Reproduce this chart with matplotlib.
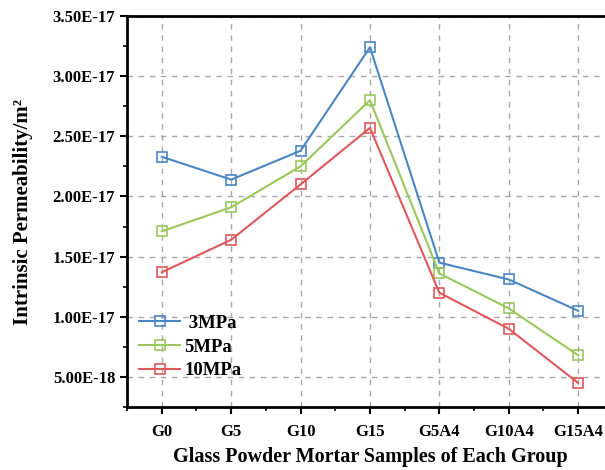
import matplotlib.pyplot as plt
from matplotlib.ticker import FuncFormatter, MultipleLocator, AutoMinorLocator

plt.rcParams['font.family'] = ['Liberation Serif', 'DejaVu Serif']
plt.rcParams['font.weight'] = 'bold'

groups = ["G0", "G5", "G10", "G15", "G5A4", "G10A4", "G15A4"]
mpa3 = [2.33e-17, 2.14e-17, 2.38e-17, 3.24e-17, 1.45e-17, 1.31e-17, 1.05e-17]
mpa5 = [1.71e-17, 1.91e-17, 2.25e-17, 2.80e-17, 1.36e-17, 1.07e-17, 0.68e-17]
mpa10 = [1.37e-17, 1.64e-17, 2.10e-17, 2.57e-17, 1.20e-17, 0.90e-17, 0.45e-17]

series = [
    (" 3MPa", mpa3, "#4a86c4"),
    ("5MPa", mpa5, "#9ac85c"),
    ("10MPa", mpa10, "#e0585c"),
]

fig = plt.figure(figsize=(6.05, 4.7), dpi=100)
ax = fig.add_axes([0.21, 0.134, 0.803, 0.832])

x = list(range(len(groups)))
for label, vals, color in series:
    ax.plot(x, vals, color=color, linewidth=1.5, marker='s', markersize=6.5,
            markerfacecolor='none', markeredgewidth=1.2, label=label)

ax.set_xlim(-0.5, 6.5)
ax.set_ylim(2.5e-18, 3.5e-17)
ax.set_xticks(x)
ax.set_xticklabels(groups)
ax.xaxis.set_minor_locator(MultipleLocator(0.5))
ax.yaxis.set_major_locator(MultipleLocator(5e-18))
ax.yaxis.set_minor_locator(AutoMinorLocator(2))
ax.yaxis.set_major_formatter(FuncFormatter(lambda v, p: f"{v:.2E}"))
ax.yaxis.get_offset_text().set_visible(False)

ax.grid(True, which='major', color='#a8a8a8', linestyle=(0, (4, 4)), linewidth=1.0)
for s in ax.spines.values():
    s.set_linewidth(2.0)
ax.tick_params(axis='both', which='major', direction='out', length=5, width=1.5,
               labelsize=12)
ax.tick_params(axis='x', which='major', pad=7)
ax.tick_params(axis='both', which='minor', direction='out', length=3, width=1.2)
for t in ax.get_xticklabels() + ax.get_yticklabels():
    t.set_fontweight('bold')

ax.set_xlabel("Glass Powder Mortar Samples of Each Group", fontsize=14.5,
              fontweight='bold', labelpad=5)
ax.set_ylabel("Intrinsic Permeability/m²", fontsize=15, fontweight='bold',
              labelpad=14)

ax.legend(loc='lower left', bbox_to_anchor=(-0.01, 0.028), frameon=False,
          prop={'size': 13.5, 'weight': 'bold'}, handlelength=2.2,
          handletextpad=0.2, labelspacing=0.35)

plt.savefig("out.png", dpi=100)
